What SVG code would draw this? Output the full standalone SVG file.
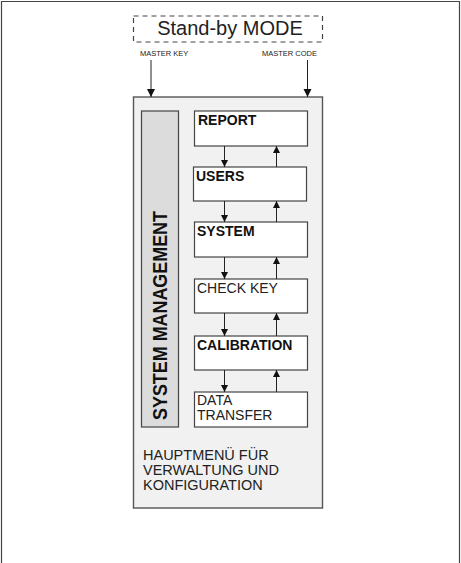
<svg xmlns="http://www.w3.org/2000/svg" width="461" height="563" viewBox="0 0 461 563">
<defs>
<style>
.frame{fill:none;stroke:#444;stroke-width:1.2}
.node{fill:#fff;stroke:#444;stroke-width:1.2}
.con{stroke:#222;stroke-width:1;fill:none}
.t{font-family:"Liberation Sans",Arial,sans-serif;fill:#222}
.b{font-weight:bold;fill:#111}
</style>
<marker id="ah" viewBox="0 0 10 10" refX="10" refY="5" markerWidth="7" markerHeight="7" markerUnits="userSpaceOnUse" orient="auto">
<path d="M0,0 L10,5 L0,10 z" fill="#111"/>
</marker>
<marker id="ah2" viewBox="0 0 10 10" refX="10" refY="5" markerWidth="8" markerHeight="9" markerUnits="userSpaceOnUse" orient="auto">
<path d="M0,0 L10,5 L0,10 z" fill="#111"/>
</marker>
</defs>
<rect width="461" height="563" fill="#fff"/>
<path class="frame" d="M1.5,563 V1.5 H459.5 V563"/>

<g id="standby">
<rect x="133.5" y="16" width="189" height="26" fill="none" stroke="#444" stroke-width="1.2" stroke-dasharray="5,4"/>
<text class="t" x="230" y="35" font-size="20" text-anchor="middle">Stand-by MODE</text>
</g>
<text class="t" x="140" y="56" font-size="7.5" fill="#333">MASTER KEY</text>
<text class="t" x="262" y="56" font-size="7.5" fill="#333">MASTER CODE</text>

<g id="main">
<rect x="133.5" y="97" width="189" height="411" fill="#f1f1f1" stroke="#555" stroke-width="1.4"/>
<text class="t" x="143" y="460" font-size="14.5" fill="#333">HAUPTMENÜ FÜR</text>
<text class="t" x="143" y="475" font-size="14.5" fill="#333">VERWALTUNG UND</text>
<text class="t" x="143" y="490" font-size="14.5" fill="#333">KONFIGURATION</text>
</g>

<g id="sysmgmt">
<rect x="141.5" y="111" width="37" height="316" fill="#dcdcdc" stroke="#444" stroke-width="1.2"/>
<text class="t b" transform="translate(167,315.5) rotate(-90)" font-size="20" text-anchor="middle" textLength="209" lengthAdjust="spacingAndGlyphs">SYSTEM MANAGEMENT</text>
</g>

<g id="report">
<rect class="node" x="194.5" y="111" width="113" height="35"/>
<text class="t b" x="198" y="125" font-size="14">REPORT</text>
</g>
<g id="users">
<rect class="node" x="193.5" y="167" width="113" height="34"/>
<text class="t b" x="196" y="181" font-size="14">USERS</text>
</g>
<g id="system">
<rect class="node" x="194.5" y="222" width="113" height="35"/>
<text class="t b" x="197" y="236" font-size="14">SYSTEM</text>
</g>
<g id="checkkey">
<rect class="node" x="194.5" y="279" width="113" height="34"/>
<text class="t" x="197" y="293" font-size="14">CHECK KEY</text>
</g>
<g id="calibration">
<rect class="node" x="194.5" y="336" width="113" height="34"/>
<text class="t b" x="197" y="350" font-size="14">CALIBRATION</text>
</g>
<g id="datatransfer">
<rect class="node" x="194.5" y="392" width="113" height="35"/>
<text class="t" x="197" y="405" font-size="14">DATA</text>
<text class="t" x="197" y="420" font-size="14">TRANSFER</text>
</g>

<g id="connectors">
<line class="con" x1="151" y1="60" x2="151" y2="97" marker-end="url(#ah2)"/>
<line class="con" x1="307.5" y1="60" x2="307.5" y2="97" marker-end="url(#ah2)"/>

<line class="con" x1="224.5" y1="146" x2="224.5" y2="167" marker-end="url(#ah)"/>
<line class="con" x1="276.5" y1="167" x2="276.5" y2="146" marker-end="url(#ah)"/>
<line class="con" x1="224.5" y1="201" x2="224.5" y2="222" marker-end="url(#ah)"/>
<line class="con" x1="276.5" y1="222" x2="276.5" y2="201" marker-end="url(#ah)"/>
<line class="con" x1="224.5" y1="257" x2="224.5" y2="279" marker-end="url(#ah)"/>
<line class="con" x1="276.5" y1="279" x2="276.5" y2="257" marker-end="url(#ah)"/>
<line class="con" x1="224.5" y1="313" x2="224.5" y2="336" marker-end="url(#ah)"/>
<line class="con" x1="276.5" y1="336" x2="276.5" y2="313" marker-end="url(#ah)"/>
<line class="con" x1="224.5" y1="370" x2="224.5" y2="392" marker-end="url(#ah)"/>
<line class="con" x1="276.5" y1="392" x2="276.5" y2="370" marker-end="url(#ah)"/>
</g>
</svg>
